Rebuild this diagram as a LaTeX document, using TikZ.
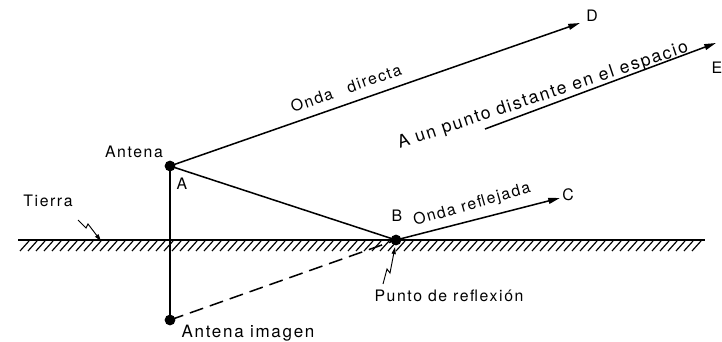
\documentclass[tikz,border=0pt]{standalone}
\usepackage{fontspec}
\setmainfont{TeX Gyre Heros}[LetterSpace=10]
\usetikzlibrary{arrows.meta}
\tikzstyle{dot} = [fill=black]
\tikzstyle{txt} = [inner sep=0pt, font=\fontsize{13.5}{15}\selectfont]
\tikzstyle{ray} = [line width=1.3pt]
\tikzstyle{arrow} = [line width=1.3pt, -{Triangle[length=10pt, width=5pt]}]
\tikzstyle{zig} = [line width=0.8pt, -{Triangle[length=6pt, width=3.5pt]}]

\begin{document}
\begin{tikzpicture}[x=0.03cm, y=-0.03cm]
\useasboundingbox (0,0) rectangle (722,342);

% points
\coordinate (antA) at (170,166);
\coordinate (refB) at (396,240);
\coordinate (image) at (170,320);
\coordinate (tipD) at (580,23);
\coordinate (tipC) at (560,198);
\coordinate (startE) at (485,129);
\coordinate (tipE) at (716,43);
\coordinate (groundL) at (18,240);
\coordinate (groundR) at (705,240);

% ground
\draw [ray] (groundL) -- (groundR);
\foreach \x in {20,28,...,696}
  \draw [line width=1pt] (\x,251) -- (\x+9,241);

% rays
\draw [ray] (antA) -- (image);
\draw [ray] (antA) -- (refB);
\draw [ray, dashed, dash pattern=on 12pt off 6pt] (image) -- (refB);
\draw [arrow] (antA) -- (tipD);
\draw [arrow] (refB) -- (tipC);
\draw [arrow] (startE) -- (tipE);

\fill [dot] (antA) circle (4.6pt);
\fill [dot] (refB) circle (4.6pt);
\fill [dot] (image) circle (4.6pt);

% labels
\node (antena) at (134,152) [txt] {Antena};
\node (labA) at (182,184) [txt] {A};
\node (labB) at (397,216) [txt] {B};
\node (labC) at (568,195) [txt] {C};
\node (labD) at (592,16) [txt] {D};
\node (labE) at (717,68) [txt] {E};
\node (directa) at (346,88) [txt, rotate=19.4] {Onda\quad directa};
\node (reflejada) at (472,205) [txt, rotate=16] {Onda reflejada};
\node (espacio) at (543,96) [txt, font=\fontsize{15}{17}\selectfont, rotate=18.5] {A un punto distante en el espacio};
\node (tierra) at (48,201) [txt] {Tierra};
\node (punto) at (449,296) [txt] {Punto de reflexión};
\node (imagen) at (248,333) [txt, font=\fontsize{14.5}{16}\selectfont] {Antena imagen};

% pointers
\coordinate (zigT1) at (78,220);
\coordinate (zigT2) at (86,228);
\coordinate (zigT3) at (88,224);
\coordinate (zigT4) at (101,241);
\draw [zig] (zigT1) -- (zigT2) -- (zigT3) -- (zigT4);
\coordinate (zigP1) at (383,284);
\coordinate (zigP2) at (387,269);
\coordinate (zigP3) at (390,273);
\coordinate (zigP4) at (395,247);
\draw [zig] (zigP1) -- (zigP2) -- (zigP3) -- (zigP4);

\end{tikzpicture}
\end{document}
